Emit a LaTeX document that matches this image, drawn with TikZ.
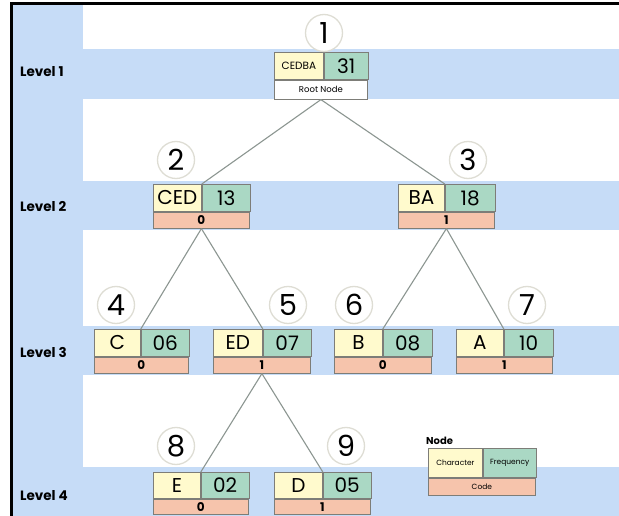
\documentclass[tikz,border=0pt]{standalone}
\usepackage{fontspec}
\setmainfont{Poppins}
\begin{document}
\definecolor{band}{RGB}{198,220,247}
\definecolor{charfill}{RGB}{255,250,205}
\definecolor{freqfill}{RGB}{170,216,196}
\definecolor{codefill}{RGB}{246,196,172}
\definecolor{cellline}{RGB}{125,125,120}
\definecolor{edgeline}{RGB}{140,150,145}
\definecolor{ringline}{RGB}{222,221,212}
\tikzset{
  cell/.style={draw=cellline, line width=0.8pt, inner sep=0pt, anchor=north west},
  charcell/.style={cell, fill=charfill, font=\fontsize{20}{20}\selectfont},
  freqcell/.style={cell, fill=freqfill, font=\fontsize{20}{20}\selectfont},
  codecell/.style={cell, fill=codefill, font=\bfseries\fontsize{12}{12}\selectfont},
  ring/.style={circle, draw=ringline, line width=1.3pt, fill=white, minimum size=37pt, inner sep=0pt, font=\fontsize{29}{29}\selectfont},
  levellabel/.style={anchor=west, inner sep=0pt, font=\bfseries\fontsize{13.5}{13.5}\selectfont},
  branch/.style={draw=edgeline, line width=1.1pt}
}
% heights of the upper and lower rows of a tree node
\newcommand\toprowh{27}
\newcommand\coderowh{16}
% #1 name, #2 left x, #3 top y, #4 char width, #5 freq width, #6 char, #7 freq, #8 code
\newcommand\hufnode[8]{%
  \node[charcell, minimum width=#4pt, minimum height=\toprowh pt] (#1c) at (#2,#3) {#6};
  \node[freqcell, minimum width=#5pt, minimum height=\toprowh pt] (#1f) at (#1c.north east) {#7};
  \node[codecell, minimum width=#4pt+#5pt, minimum height=\coderowh pt] (#1k) at (#1c.south west) {#8};
}
\begin{tikzpicture}[x=1pt, y=-1pt]
\useasboundingbox (0,0) rectangle (619,516);
\fill[white] (0,0) rectangle (619,516);
% level bands and left column
\fill[band] (12,4) rectangle (83,516);
\foreach \top/\bot in {49/99, 181/230, 326/375, 467/516}
  \fill[band] (12,\top) rectangle (619,\bot);
% frame
\draw[line width=3pt] (11.5,516) -- (11.5,3.5) -- (619,3.5);
% level labels
\node[levellabel] (lv1) at (20,72) {Level 1};
\node[levellabel] (lv2) at (20,207) {Level 2};
\node[levellabel] (lv3) at (20,353) {Level 3};
\node[levellabel] (lv4) at (20,496) {Level 4};
% root node
\node[charcell, minimum width=49pt, minimum height=27pt, font=\fontsize{10.5}{10.5}\selectfont] (n1c) at (274,52) {CEDBA};
\node[freqcell, minimum width=44pt, minimum height=27pt] (n1f) at (n1c.north east) {31};
\node[cell, fill=white, minimum width=93pt, minimum height=19pt, font=\fontsize{8.5}{8.5}\selectfont] (n1k) at (n1c.south west) {Root Node};
% tree nodes
\hufnode{n2}{153}{184}{48}{48}{CED}{13}{0}
\hufnode{n3}{398}{184}{46}{50}{BA}{18}{1}
\hufnode{n4}{94}{329}{46}{48}{C}{06}{0}
\hufnode{n5}{213}{329}{49}{48}{ED}{07}{1}
\hufnode{n6}{334}{329}{48}{49}{B}{08}{0}
\hufnode{n7}{456}{329}{47}{49}{A}{10}{1}
\renewcommand\toprowh{26}
\renewcommand\coderowh{15}
\hufnode{n8}{153}{472}{47}{48}{E}{02}{0}
\hufnode{n9}{274}{472}{48}{48}{D}{05}{1}
% branches
\draw[branch] (n1k.south) -- (n2f.north west);
\draw[branch] (n1k.south) -- (n3f.north west);
\draw[branch] (n2k.south) -- (n4f.north west);
\draw[branch] (n2k.south) -- (n5f.north west);
\draw[branch] (n3k.south) -- (n6f.north west);
\draw[branch] (n3k.south) -- (n7f.north west);
\draw[branch] (n5k.south) -- (n8f.north west);
\draw[branch] (n5k.south) -- (n9f.north west);
% node numbers
\node[ring] (r1) at (324,33) {1};
\node[ring] (r2) at (176,160) {2};
\node[ring] (r3) at (468,160) {3};
\node[ring] (r4) at (116,305) {4};
\node[ring] (r5) at (288,305) {5};
\node[ring] (r6) at (354,305) {6};
\node[ring] (r7) at (527,305) {7};
\node[ring] (r8) at (176,446) {8};
\node[ring] (r9) at (346,446) {9};
% legend
\node[anchor=south west, inner sep=0pt, font=\bfseries\fontsize{10}{10}\selectfont] (lgt) at (426,445) {Node};
\node[charcell, minimum width=54pt, minimum height=29pt, font=\fontsize{7.5}{7.5}\selectfont] (lgc) at (428,448) {Character};
\node[freqcell, minimum width=53pt, minimum height=29pt, font=\fontsize{7.5}{7.5}\selectfont] (lgf) at (lgc.north east) {Frequency};
\node[codecell, minimum width=107pt, minimum height=17pt, font=\fontsize{7.5}{7.5}\selectfont] (lgk) at (lgc.south west) {Code};
\end{tikzpicture}
\end{document}
